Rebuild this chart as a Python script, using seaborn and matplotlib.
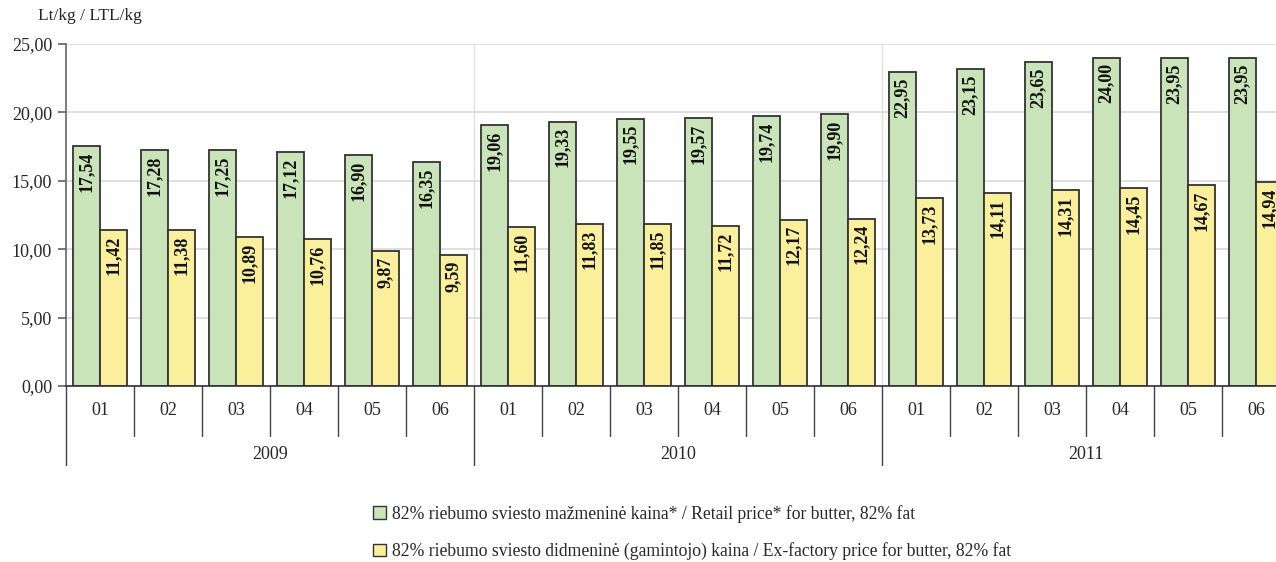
import numpy as np
import pandas as pd
import seaborn as sns
import matplotlib.pyplot as plt
from matplotlib.patches import Patch

years = ["2009", "2010", "2011"]
months = ["01", "02", "03", "04", "05", "06"]
retail = [17.54, 17.28, 17.25, 17.12, 16.90, 16.35,
          19.06, 19.33, 19.55, 19.57, 19.74, 19.90,
          22.95, 23.15, 23.65, 24.00, 23.95, 23.95]
factory = [11.42, 11.38, 10.89, 10.76, 9.87, 9.59,
           11.60, 11.83, 11.85, 11.72, 12.17, 12.24,
           13.73, 14.11, 14.31, 14.45, 14.67, 14.94]
series = ["82% riebumo sviesto mažmeninė kaina* / Retail price* for butter, 82% fat",
          "82% riebumo sviesto didmeninė (gamintojo) kaina / Ex-factory price for butter, 82% fat"]
colors = ["#c8e4b8", "#faf09b"]

periods = [f"{y}-{m}" for y in years for m in months]
df = pd.DataFrame({
    "period": periods * 2,
    "value": retail + factory,
    "series": [series[0]] * len(periods) + [series[1]] * len(periods),
})

sns.set_theme(style="white")
plt.rcParams["font.family"] = ["Liberation Serif", "DejaVu Serif"]

fig = plt.figure(figsize=(12.76, 5.62), dpi=100)
ax = fig.add_axes([66 / 1276, 1 - 386 / 562, (1290 - 66) / 1276, (386 - 44) / 562])

sns.barplot(data=df, x="period", y="value", hue="series", palette=colors, saturation=1,
            width=0.8, edgecolor="#333333", linewidth=1.3, legend=False, ax=ax)

# value labels, rotated, inside the bar tops
for p in ax.patches:
    h = p.get_height()
    if h <= 0:
        continue
    ax.annotate(f"{h:.2f}".replace(".", ","), (p.get_x() + p.get_width() / 2, h),
                xytext=(0, -4), textcoords="offset points", rotation=90,
                ha="center", va="top", fontsize=13, fontweight="bold", color="#111111")

ax.set_ylim(0, 25)
ax.set_xlim(-0.5, len(periods) - 0.5)
ax.set_yticks(np.arange(0, 25.01, 5))
ax.set_yticklabels([f"{v:.2f}".replace(".", ",") for v in np.arange(0, 25.01, 5)], fontsize=13)
ax.yaxis.grid(True, color="#d9d9d9", linewidth=1.2)
ax.set_axisbelow(True)
for xb in [5.5, 11.5]:
    ax.axvline(xb, color="#e0e0e0", linewidth=1.0, zorder=0)

for s in ["top", "right"]:
    ax.spines[s].set_visible(False)
ax.spines["left"].set_color("#666666")
ax.spines["bottom"].set_color("#333333")
ax.spines["left"].set_linewidth(1.2)
ax.spines["bottom"].set_linewidth(1.2)
ax.tick_params(axis="y", left=True, length=6, color="#666666", pad=4)
ax.set_xlabel("")
ax.set_ylabel("")

# two level category axis
ax.set_xticks([])
trans = ax.get_xaxis_transform()
for i in range(len(periods) + 1):
    xb = i - 0.5
    bottom = -0.23 if i % 6 == 0 else -0.145
    ax.plot([xb, xb], [0, bottom], transform=trans, color="#444444",
            linewidth=1.0, clip_on=False)
for i, p in enumerate(periods):
    ax.text(i, -0.072, p.split("-")[1], transform=trans, ha="center", va="center", fontsize=13)
for j, y in enumerate(years):
    ax.text(j * 6 + 2.5, -0.2, y, transform=trans, ha="center", va="center", fontsize=13)

fig.text(38 / 1276, 1 - 16 / 562, "Lt/kg / LTL/kg", fontsize=12.5, va="center", ha="left")

handles = [Patch(facecolor=c, edgecolor="#333333", linewidth=1.0) for c in colors]
fig.legend(handles, series, loc="upper left", bbox_to_anchor=(373 / 1276, 1 - 505 / 562),
           frameon=False, fontsize=12.7, handlelength=0.75, handleheight=0.75,
           handletextpad=0.3, labelspacing=1.1, borderaxespad=0, borderpad=0)

fig.savefig("out.png", dpi=100)
